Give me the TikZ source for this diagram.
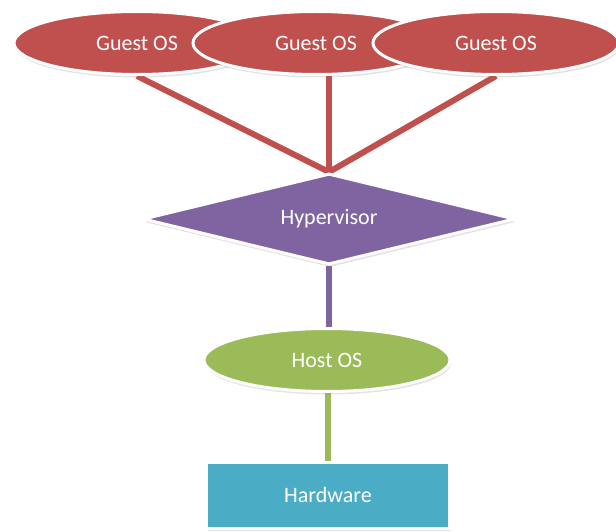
\documentclass[tikz,border=0pt]{standalone}
\usepackage{fontspec}
\setmainfont{Carlito}
\usetikzlibrary{shapes.geometric,shadows,backgrounds}
\definecolor{guestred}{HTML}{C0504D}
\definecolor{hyperpurple}{HTML}{8064A2}
\definecolor{hostgreen}{HTML}{9BBB59}
\definecolor{hwblue}{HTML}{4BACC6}
\tikzset{
  office/.style={draw=white, line width=3pt, text=white, font=\fontsize{22}{26}\selectfont,
    drop shadow={opacity=0.22, shadow xshift=1pt, shadow yshift=-3pt}},
  guest/.style={office, ellipse, fill=guestred, minimum width=246pt, minimum height=63pt, inner sep=0pt},
  hyper/.style={office, diamond, shape aspect=4, fill=hyperpurple, minimum width=372pt, minimum height=91pt, inner sep=0pt},
  host/.style={office, ellipse, fill=hostgreen, minimum width=246pt, minimum height=63pt, inner sep=0pt},
  hw/.style={office, rectangle, fill=hwblue, minimum width=243pt, minimum height=66pt, inner sep=0pt},
  link/.style={line width=6pt}
}
\begin{document}
\begin{tikzpicture}[x=1pt,y=-1pt]
\useasboundingbox (0,0) rectangle (616,532);
\node[guest] (g1) at (137,43) {Guest OS};
\node[guest] (g2) at (316,43) {Guest OS};
\node[guest] (g3) at (496,43) {Guest OS};
\node[hyper] (hv) at (329,219) {Hypervisor};
\node[host] (host) at (327,360) {Host OS};
\node[hw] (hw) at (328,495) {Hardware};
\begin{scope}[on background layer]
  \draw[link, guestred] (g1.south) -- (hv.north);
  \draw[link, guestred] (g2.south -| hv.north) -- (hv.north);
  \draw[link, guestred] (g3.south) -- (hv.north);
  \draw[link, hyperpurple] (hv.south) -- (hv.south |- host.north);
  \draw[link, hostgreen] (host.south -| hw.north) -- (hw.north);
\end{scope}
\end{tikzpicture}
\end{document}
